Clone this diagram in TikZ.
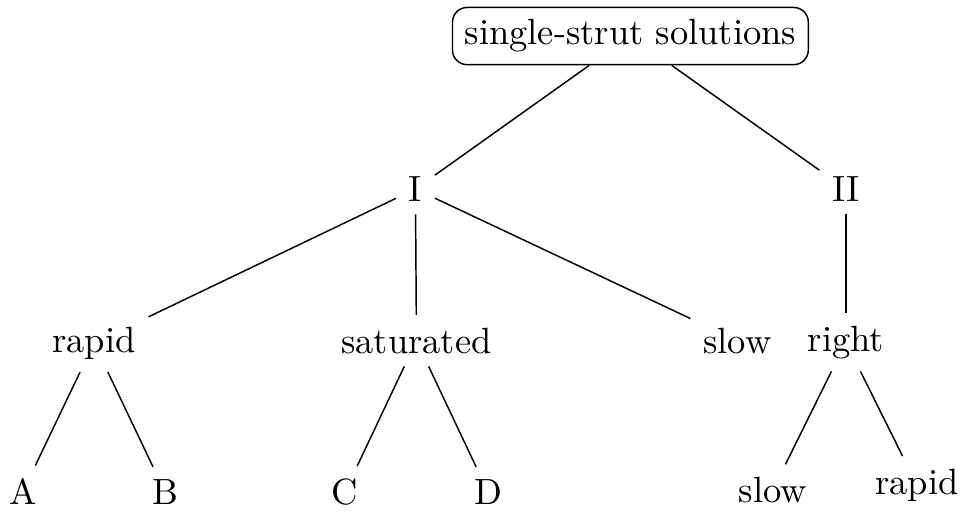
\documentclass[tikz,border=0pt]{standalone}
\begin{document}
\begin{tikzpicture}[
  tnode/.style={anchor=base},
  rootnode/.style={draw=black, rounded corners=4pt, anchor=base},
  branch/.style={line width=0.4pt, draw=black}
]
  \useasboundingbox (0,0) rectangle (9.263,-4.94);

  % Raiz
  \node[rootnode] (root) at (6.07, -0.433) {single-strut solutions};

  % Primer nivel
  \node[tnode] (I) at (4.00, -1.94) {I};
  \node[tnode] (II) at (8.145, -1.94) {II};

  % Segundo nivel
  \node[tnode] (rapid) at (0.905, -3.39) {rapid};
  \node[tnode] (sat) at (4.01, -3.40) {saturated};
  \node[tnode] (slowI) at (7.10, -3.40) {slow};
  \node[tnode] (right) at (8.145, -3.38) {right};

  % Hojas
  \node[tnode] (A) at (0.22, -4.86) {A};
  \node[tnode] (B) at (1.59, -4.86) {B};
  \node[tnode] (C) at (3.32, -4.86) {C};
  \node[tnode] (D) at (4.70, -4.86) {D};
  \node[tnode] (slowII) at (7.44, -4.84) {slow};
  \node[tnode] (rapidII) at (8.83, -4.76) {rapid};

  % Ramas
  \draw[branch] (root) -- (I);
  \draw[branch] (root) -- (II);
  \draw[branch] (I) -- (rapid);
  \draw[branch] (I) -- (sat);
  \draw[branch] (I) -- (slowI);
  \draw[branch] (II) -- (right);
  \draw[branch] (rapid) -- (A);
  \draw[branch] (rapid) -- (B);
  \draw[branch] (sat) -- (C);
  \draw[branch] (sat) -- (D);
  \draw[branch] (right) -- (slowII);
  \draw[branch] (right) -- (rapidII);

\end{tikzpicture}
\end{document}
